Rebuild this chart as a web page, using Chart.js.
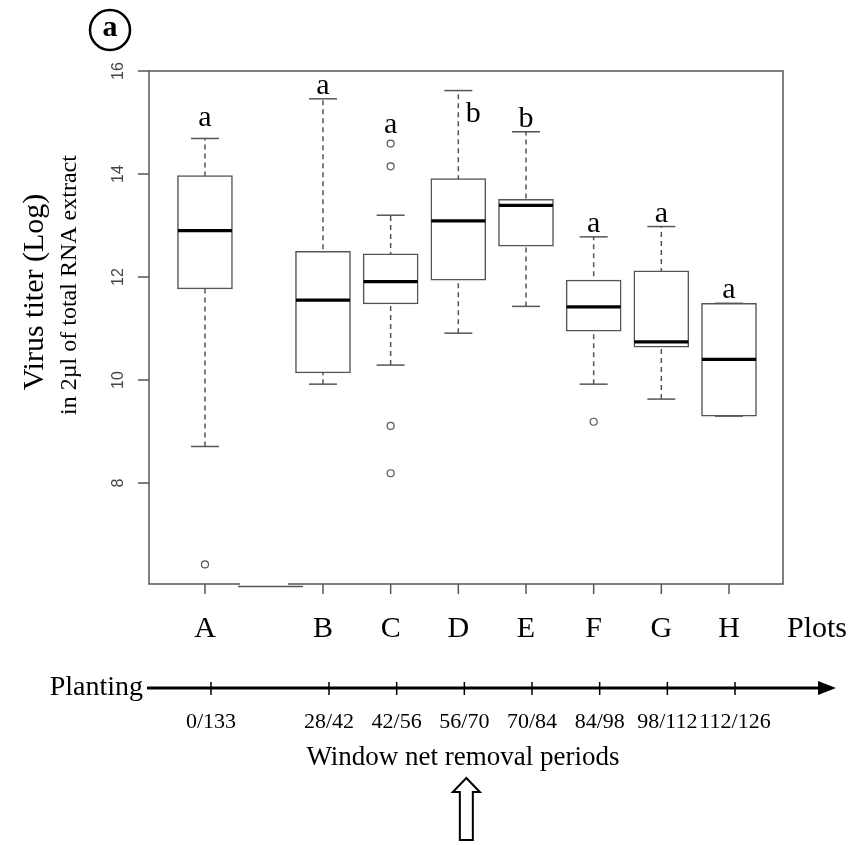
<!DOCTYPE html>
<html>
<head>
<meta charset="UTF-8">
<title>Virus titer by plot</title>
<script src="https://cdn.jsdelivr.net/npm/chart.js"></script>
<style>body{margin:0;background:#fff}</style>
</head>
<body>
<canvas id="boxChart" width="856" height="845"></canvas>
<script>
// plots and where they sit on the x axis (one slot was cut out between A and B)
const plots = ['A', 'B', 'C', 'D', 'E', 'F', 'G', 'H'];
const plotPos = [0.256, 2, 3, 4, 5, 6, 7, 8];
const periods = ['0/133', '28/42', '42/56', '56/70', '70/84', '84/98', '98/112', '112/126'];

// box statistics (log titer)
const whiskerLow  = [8.71, 9.92, 10.29, 10.91, 11.43, 9.92, 9.63, 9.30];
const q1          = [11.77, 10.14, 11.48, 11.94, 12.60, 10.95, 10.64, 9.30];
const median      = [12.90, 11.55, 11.91, 13.09, 13.39, 11.42, 10.74, 10.40];
const q3          = [13.97, 12.50, 12.45, 13.91, 13.51, 11.94, 12.12, 11.49];
const whiskerHigh = [14.69, 15.46, 13.20, 15.62, 14.82, 12.78, 12.98, 11.49];
const outliers = [[6.42], [], [14.59, 14.15, 9.11, 8.19], [], [], [9.19], [], []];
const groupLetters = ['a', 'a', 'a', 'b', 'b', 'a', 'a', 'a'];
const yTicks = [8, 10, 12, 14, 16];

const SERIF = '"Liberation Serif", "Times New Roman", serif';
const GREY = '#555';

// nudges for letters that don't sit straight above their box
const letterShift = { 0: [0, -7], 2: [0, -6], 3: [15, 36] };

const extras = {
    id: 'extras',
    afterDatasetsDraw(chart) {
        const { ctx, chartArea: a } = chart;
        const xs = chart.scales.x, ys = chart.scales.y, xt = chart.scales.xt;
        ctx.save();

        // frame (with the little step left where a plot was removed)
        ctx.strokeStyle = GREY;
        ctx.lineWidth = 1.5;
        ctx.beginPath();
        ctx.moveTo(a.left + 91, a.bottom);
        ctx.lineTo(a.left, a.bottom);
        ctx.lineTo(a.left, a.top);
        ctx.lineTo(a.right, a.top);
        ctx.lineTo(a.right, a.bottom);
        ctx.lineTo(a.left + 139, a.bottom);
        ctx.moveTo(a.left + 89, a.bottom + 2.5);
        ctx.lineTo(a.left + 154, a.bottom + 2.5);
        ctx.stroke();

        // y ticks, rotated labels
        ctx.font = '16px "Liberation Sans", Arial, sans-serif';
        ctx.fillStyle = '#444';
        ctx.textAlign = 'center';
        ctx.textBaseline = 'middle';
        yTicks.forEach(v => {
            const py = ys.getPixelForValue(v);
            ctx.beginPath();
            ctx.moveTo(a.left - 11, py);
            ctx.lineTo(a.left, py);
            ctx.stroke();
            ctx.save();
            ctx.translate(a.left - 30, py);
            ctx.rotate(-Math.PI / 2);
            ctx.fillText(String(v), 0, 0);
            ctx.restore();
        });

        // x ticks and plot names
        ctx.fillStyle = '#000';
        ctx.font = '30px ' + SERIF;
        ctx.textBaseline = 'alphabetic';
        plotPos.forEach((p, i) => {
            const px = xs.getPixelForValue(p);
            ctx.beginPath();
            ctx.moveTo(px, a.bottom);
            ctx.lineTo(px, a.bottom + 10);
            ctx.stroke();
            ctx.fillText(plots[i], px, a.bottom + 53);
        });
        ctx.textAlign = 'left';
        ctx.fillText('Plots', a.right + 4, a.bottom + 53);

        // significance letters
        ctx.textAlign = 'center';
        plotPos.forEach((p, i) => {
            const above = outliers[i].filter(v => v > q3[i]);
            const top = Math.max(whiskerHigh[i], ...above);
            const sh = letterShift[i] || [0, 0];
            const px = xs.getPixelForValue(p) + sh[0];
            const py = ys.getPixelForValue(top) - 5 + sh[1];
            ctx.fillText(groupLetters[i], px, py);
        });

        // y axis titles
        ctx.save();
        ctx.translate(35, 292);
        ctx.rotate(-Math.PI / 2);
        ctx.textBaseline = 'middle';
        ctx.font = '30px ' + SERIF;
        ctx.fillText('Virus titer (Log)', 0, 0);
        ctx.restore();
        ctx.save();
        ctx.translate(70, 285);
        ctx.rotate(-Math.PI / 2);
        ctx.textBaseline = 'middle';
        ctx.font = '24px ' + SERIF;
        ctx.fillText('in 2\u00b5l of total RNA extract', 0, 0);
        ctx.restore();

        // panel letter
        ctx.beginPath();
        ctx.lineWidth = 2.5;
        ctx.strokeStyle = '#000';
        ctx.arc(110, 30, 20, 0, Math.PI * 2);
        ctx.stroke();
        ctx.font = 'bold 30px ' + SERIF;
        ctx.textBaseline = 'middle';
        ctx.fillText('a', 110, 28);

        // planting timeline
        const ty = a.bottom + 104;
        ctx.lineWidth = 3;
        ctx.beginPath();
        ctx.moveTo(147, ty);
        ctx.lineTo(822, ty);
        ctx.stroke();
        ctx.beginPath();
        ctx.moveTo(818, ty - 7);
        ctx.lineTo(836, ty);
        ctx.lineTo(818, ty + 7);
        ctx.closePath();
        ctx.fill();
        ctx.lineWidth = 1.5;
        ctx.font = '22px ' + SERIF;
        ctx.textBaseline = 'alphabetic';
        plotPos.forEach((p, i) => {
            const px = xt.getPixelForValue(p);
            ctx.beginPath();
            ctx.moveTo(px, ty - 6);
            ctx.lineTo(px, ty + 7);
            ctx.stroke();
            ctx.fillText(periods[i], px, ty + 40);
        });
        ctx.font = '28px ' + SERIF;
        ctx.textAlign = 'right';
        ctx.fillText('Planting', 143, ty + 7);
        ctx.textAlign = 'center';
        ctx.font = '27px ' + SERIF;
        ctx.fillText('Window net removal periods', 463, ty + 77);

        // hollow arrow pointing at 56/70
        const ax = xt.getPixelForValue(plotPos[3]) + 2;
        ctx.lineWidth = 2;
        ctx.fillStyle = '#fff';
        ctx.beginPath();
        ctx.moveTo(ax - 6.5, 840);
        ctx.lineTo(ax - 6.5, 792);
        ctx.lineTo(ax - 13.5, 792);
        ctx.lineTo(ax, 778);
        ctx.lineTo(ax + 13.5, 792);
        ctx.lineTo(ax + 6.5, 792);
        ctx.lineTo(ax + 6.5, 840);
        ctx.closePath();
        ctx.fill();
        ctx.stroke();

        ctx.restore();
    }
};

const whiskerData = plotPos.flatMap((p, i) => [
    { x: p, y: whiskerLow[i] }, { x: p, y: whiskerHigh[i] }, { x: p, y: null }
]);
const capData = plotPos.flatMap((p, i) => [
    { x: p, y: whiskerLow[i] }, { x: p, y: whiskerHigh[i] }
]);
const outlierData = plotPos.flatMap((p, i) => outliers[i].map(v => ({ x: p, y: v })));

new Chart(document.getElementById('boxChart'), {
    type: 'bar',
    data: {
        datasets: [
            {
                type: 'line', data: whiskerData, order: 4,
                borderColor: GREY, borderWidth: 1.5, borderDash: [5, 4],
                pointRadius: 0, spanGaps: false
            },
            {
                type: 'scatter', data: capData, order: 3,
                pointStyle: 'line', pointRadius: 14, borderColor: GREY, borderWidth: 1.5
            },
            {
                type: 'bar', order: 2,
                data: plotPos.map((p, i) => ({ x: p, y: [q1[i], q3[i]] })),
                backgroundColor: '#fff', borderColor: GREY, borderWidth: 1.5,
                borderSkipped: false, barThickness: 55
            },
            {
                type: 'scatter', order: 1,
                data: plotPos.map((p, i) => ({ x: p, y: median[i] })),
                pointStyle: 'line', pointRadius: 27, borderColor: '#000', borderWidth: 3.2
            },
            {
                type: 'scatter', data: outlierData, order: 0,
                pointStyle: 'circle', pointRadius: 3.5, borderColor: GREY,
                borderWidth: 1.2, backgroundColor: '#fff'
            }
        ]
    },
    options: {
        responsive: false,
        animation: false,
        layout: { padding: { left: 149, right: 73, top: 71, bottom: 261 } },
        plugins: { legend: { display: false }, tooltip: { enabled: false } },
        scales: {
            x: { type: 'linear', min: -0.571, max: 8.798, offset: false, display: false },
            // the hand-drawn timeline below runs a few pixels right of the plot ticks
            xt: { type: 'linear', axis: 'x', position: 'bottom', min: -0.66, max: 8.709, offset: false, display: false },
            y: { type: 'linear', min: 6.04, max: 16, display: false }
        }
    },
    plugins: [extras]
});
</script>
</body>
</html>
